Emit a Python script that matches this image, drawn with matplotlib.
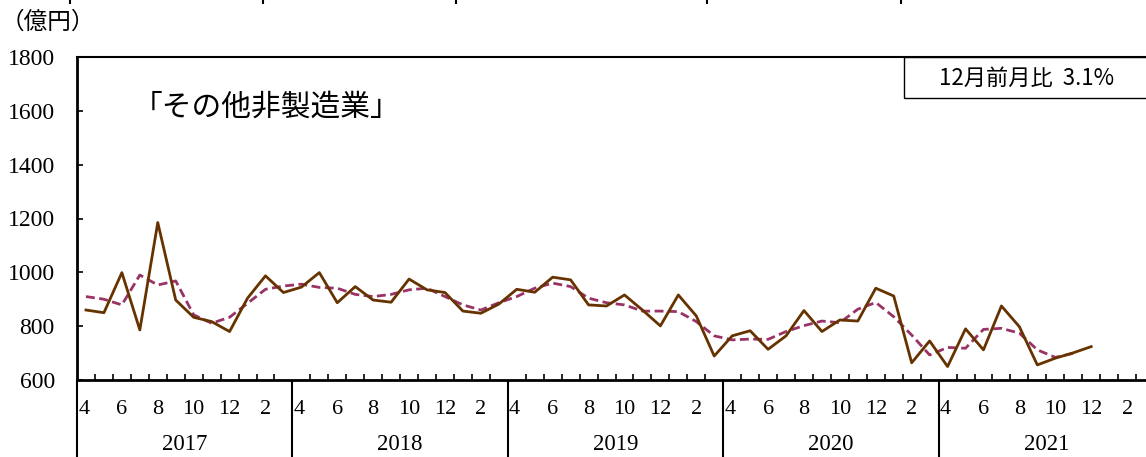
import matplotlib
matplotlib.use('Agg')
import matplotlib.pyplot as plt
from matplotlib.lines import Line2D
from matplotlib.patches import Rectangle
import numpy as np

# 年度ごとの月次データ（2017年4月～2021年12月）
years = ['2017', '2018', '2019', '2020', '2021']
month_labels = ['4', '6', '8', '10', '12', '2']
y_ticks = [600, 800, 1000, 1200, 1400, 1600, 1800]

actual = [860, 850, 999, 786, 1185, 897, 833, 817, 780, 904, 987, 925,
          945, 999, 887, 947, 897, 889, 975, 935, 925, 856, 848, 882,
          937, 926, 982, 972, 879, 875, 916, 860, 801, 916, 838, 689,
          764, 783, 714, 764, 858, 780, 823, 819, 941, 912, 664, 745,
          650, 790, 712, 875, 798, 656, 681, 701, 724]
trend = [910, 900, 879, 990, 953, 968, 842, 811, 833, 885, 937, 949,
         956, 944, 941, 918, 910, 918, 935, 941, 910, 879, 860, 887,
         910, 941, 960, 947, 904, 887, 879, 856, 856, 854, 817, 764,
         749, 752, 751, 780, 802, 819, 813, 863, 888, 835, 767, 693,
         721, 718, 788, 792, 774, 712, 684, 699]

title = '「その他非製造業」'
note = '12月前月比  3.1%'
unit = '（億円）'

jp = ['Noto Sans CJK JP', 'DejaVu Sans']
serif = ['Liberation Serif', 'DejaVu Serif']

W, H = 1146, 457
fig = plt.figure(figsize=(W / 100, H / 100), dpi=100)
ax = fig.add_axes([77 / W, 77 / H, 1077 / W, 323 / H])

n_months = 12 * len(years)
ax.plot(np.arange(len(actual)) + 0.5, actual, color='#663300', lw=2.0, zorder=3)
ax.plot(np.arange(len(trend)) + 0.5, trend, color='#993366', lw=2.0,
        dashes=(3.2, 1.6), zorder=2)

ax.set_xlim(0, n_months)
ax.set_ylim(600, 1800)

# y axis
ax.set_yticks(y_ticks)
ax.set_yticklabels([str(v) for v in y_ticks], fontfamily=serif, fontsize=17)
ax.tick_params(axis='y', direction='in', length=4, width=1.2, pad=16)

# x axis: year dividers (long, outward) + month ticks (short, inward)
ax.set_xticks(np.arange(0, n_months + 1, 12))
ax.set_xticklabels([])
ax.set_xticks(np.arange(0, n_months + 1), minor=True)
ax.tick_params(axis='x', which='major', direction='out', length=60, width=1.5)
ax.tick_params(axis='x', which='minor', direction='in', length=4, width=1.2)

xt = ax.get_xaxis_transform()
for k, yr in enumerate(years):
    for j, lab in enumerate(month_labels):
        xpos = 12 * k + 2 * j + 0.5
        if j == 0:
            xpos -= 0.12
        ax.text(xpos, -0.09, lab, transform=xt, ha='center',
                va='center', fontsize=16, fontfamily=serif)
    ax.text(12 * k + 6, -0.2, yr, transform=xt, ha='center', va='center',
            fontsize=16.5, fontfamily=serif)

for s in ['left', 'bottom']:
    ax.spines[s].set_linewidth(2)
ax.spines['top'].set_linewidth(1.5)
ax.spines['right'].set_visible(False)

# boxed note at upper right
fig.add_artist(Rectangle((904 / W, (H - 98) / H), 260 / W, 41 / H, fill=False,
                         lw=1.0, edgecolor='black', transform=fig.transFigure,
                         clip_on=False))
fig.text(1027 / W, (H - 78) / H, note, ha='center', va='center', fontsize=16,
         family=jp)

fig.text(133 / W, (H - 107) / H, title, ha='left', va='center', fontsize=21.4,
         family=jp)
fig.text(1 / W, (H - 22) / H, unit, ha='left', va='center', fontsize=17,
         family=jp)

# tiny marks left over from the chart above
for xm in [70, 263, 456, 707, 901]:
    fig.add_artist(Line2D([xm / W, xm / W], [1, 1 - 3 / H], color='black', lw=1.5))

fig.savefig('out.png', dpi=100)
